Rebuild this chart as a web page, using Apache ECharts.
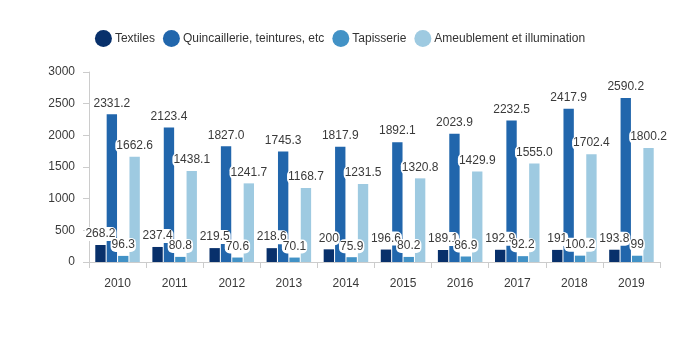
<!DOCTYPE html>
<html>
<head>
<meta charset="utf-8">
<script src="https://cdn.jsdelivr.net/npm/echarts@6/dist/echarts.min.js"></script>
<style>
  html, body { margin: 0; padding: 0; background: #fff; }
  #chart { width: 680px; height: 340px; }
</style>
</head>
<body>
<div id="chart"></div>
<script>
// Years on the category axis
const years = ['2010', '2011', '2012', '2013', '2014', '2015', '2016', '2017', '2018', '2019'];

// Series values (kept as written so labels show them verbatim)
const textiles = ['268.2', '237.4', '219.5', '218.6', '200', '196.6', '189.1', '192.9', '191', '193.8'];
const quincaillerie = ['2331.2', '2123.4', '1827.0', '1745.3', '1817.9', '1892.1', '2023.9', '2232.5', '2417.9', '2590.2'];
const tapisserie = ['96.3', '80.8', '70.6', '70.1', '75.9', '80.2', '86.9', '92.2', '100.2', '99'];
const ameublement = ['1662.6', '1438.1', '1241.7', '1168.7', '1231.5', '1320.8', '1429.9', '1555.0', '1702.4', '1800.2'];

const seriesNames = ['Textiles', 'Quincaillerie, teintures, etc', 'Tapisserie', 'Ameublement et illumination'];
const seriesColors = ['#08306b', '#2166ac', '#4292c6', '#9ecae1'];
const seriesValues = [textiles, quincaillerie, tapisserie, ameublement];

const chart = echarts.init(document.getElementById('chart'), null, { renderer: 'canvas' });

const series = seriesNames.map((name, i) => ({
  name: name,
  type: 'bar',
  barCategoryGap: '22%',
  barGap: '10%',
  itemStyle: { color: seriesColors[i] },
  data: seriesValues[i].map(Number),
  label: {
    show: true,
    position: 'top',
    distance: 4,
    fontSize: 12,
    color: '#3a3a3a',
    backgroundColor: '#fff',
    borderRadius: 5,
    padding: [1, 1],
    formatter: p => seriesValues[i][p.dataIndex]
  }
}));

chart.setOption({
  animation: false,
  textStyle: { fontFamily: 'Liberation Sans, Arial, sans-serif' },
  legend: {
    top: 25,
    left: 'center',
    icon: 'circle',
    itemWidth: 17,
    itemHeight: 17,
    itemGap: 8,
    textStyle: { fontSize: 12, color: '#333', padding: [0, 0, 0, -2] },
    data: seriesNames
  },
  grid: { left: 89, right: 20, top: 72, bottom: 78, containLabel: false },
  xAxis: {
    type: 'category',
    data: years,
    axisLine: { lineStyle: { color: '#ccc' } },
    axisTick: { show: true, length: 6, lineStyle: { color: '#ccc' } },
    axisLabel: { color: '#3a3a3a', fontSize: 12, margin: 16 }
  },
  yAxis: {
    type: 'value',
    min: 0,
    max: 3000,
    interval: 500,
    splitLine: { show: false },
    axisLine: { show: true, lineStyle: { color: '#ccc' } },
    axisTick: { show: true, length: 6, lineStyle: { color: '#ccc' } },
    axisLabel: { color: '#3a3a3a', fontSize: 12, margin: 14, formatter: v => String(v) }
  },
  series: series
});
</script>
</body>
</html>
